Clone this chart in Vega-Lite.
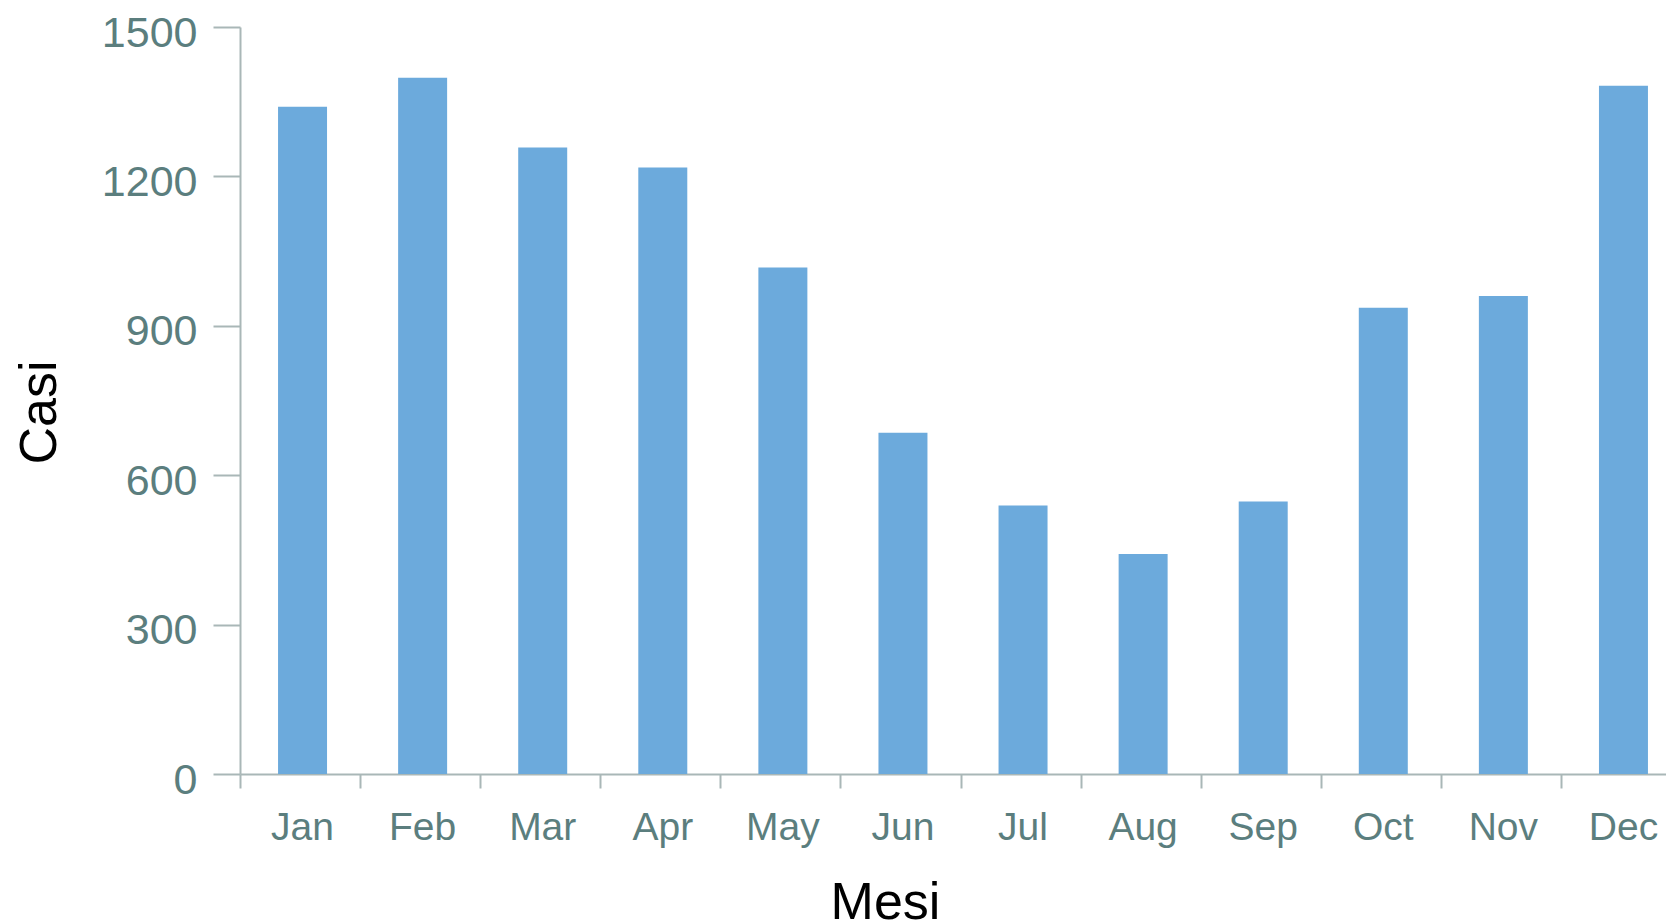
{
  "$schema": "https://vega.github.io/schema/vega-lite/v6.json",
  "autosize": {"type": "none"},
  "padding": {"left": 240, "top": 27, "right": 0, "bottom": 148},
  "width": 1426,
  "height": 747,
  "background": "white",
  "config": {
    "view": {"stroke": null},
    "font": "Liberation Sans"
  },
  "data": {
    "values": [
      {"mese": "Jan", "casi": 1340},
      {"mese": "Feb", "casi": 1398},
      {"mese": "Mar", "casi": 1258},
      {"mese": "Apr", "casi": 1218},
      {"mese": "May", "casi": 1017},
      {"mese": "Jun", "casi": 685},
      {"mese": "Jul", "casi": 539},
      {"mese": "Aug", "casi": 442},
      {"mese": "Sep", "casi": 547},
      {"mese": "Oct", "casi": 936},
      {"mese": "Nov", "casi": 960},
      {"mese": "Dec", "casi": 1382}
    ]
  },
  "mark": {"type": "bar", "color": "#6caadc", "width": {"band": 0.408}, "xOffset": 2.5},
  "encoding": {
    "x": {
      "field": "mese",
      "type": "nominal",
      "sort": null,
      "scale": {"range": [0, 1441], "paddingInner": 0, "paddingOuter": 0},
      "axis": {
        "title": "Mesi",
        "labelAngle": 0,
        "tickBand": "extent",
        "domainColor": "#a9b7b7",
        "domainWidth": 2,
        "tickColor": "#a9b7b7",
        "tickWidth": 2,
        "tickSize": 14,
        "labelColor": "#5b7e7e",
        "labelFont": "Liberation Sans",
        "labelFontSize": 39,
        "labelPadding": 20,
        "labelOffset": 2,
        "titleFont": "Liberation Sans",
        "titleFontSize": 52,
        "titleFontWeight": "normal",
        "titleColor": "#000000",
        "titleBaseline": "alphabetic",
        "titleX": 645,
        "titleY": 144,
        "grid": false
      }
    },
    "y": {
      "field": "casi",
      "type": "quantitative",
      "scale": {"domain": [0, 1500], "nice": false},
      "axis": {
        "title": "Casi",
        "format": "d",
        "values": [0, 300, 600, 900, 1200, 1500],
        "domainColor": "#a9b7b7",
        "domainWidth": 2,
        "tickColor": "#a9b7b7",
        "tickWidth": 2,
        "tickSize": 27,
        "labelColor": "#5b7e7e",
        "labelFont": "Liberation Sans",
        "labelFontSize": 43,
        "labelPadding": 16,
        "labelOffset": 6,
        "titleFont": "Liberation Sans",
        "titleFontSize": 52,
        "titleFontWeight": "normal",
        "titleColor": "#000000",
        "titleBaseline": "alphabetic",
        "titleAngle": -90,
        "titleX": -185,
        "titleY": 385,
        "grid": false
      }
    }
  }
}
